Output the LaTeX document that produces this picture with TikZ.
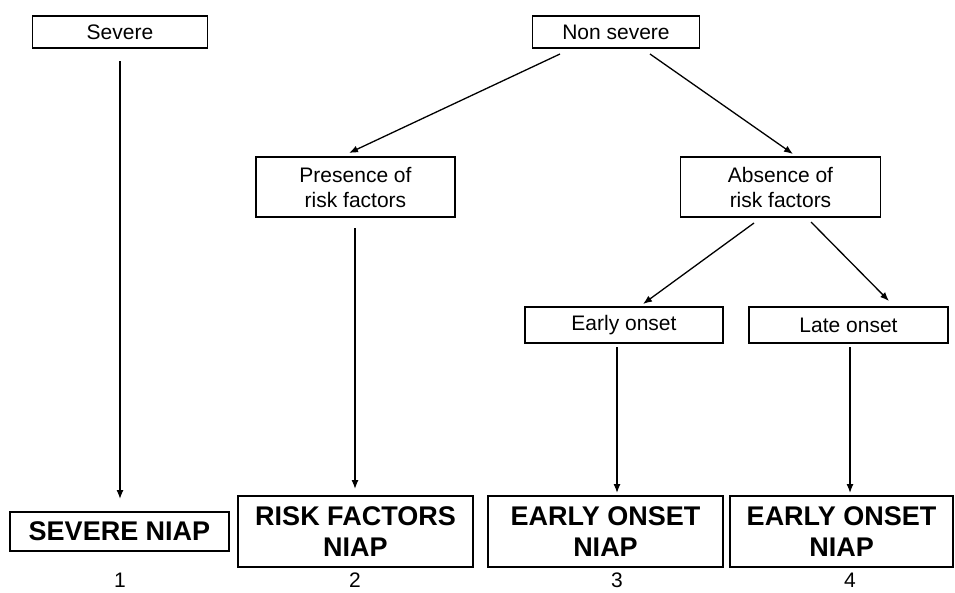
\documentclass[tikz,border=0pt]{standalone}
\usepackage{fontspec}
\setmainfont{Liberation Sans}
\usetikzlibrary{arrows.meta}
\begin{document}
\begin{tikzpicture}[x=1pt,y=-1pt,
  smallbox/.style={draw,line width=1.3pt,inner sep=0pt,align=center,font=\fontsize{21}{25}\selectfont},
  bigbox/.style={draw,line width=1.4pt,inner sep=0pt,align=center,font=\fontsize{27}{31}\selectfont\bfseries},
  numlab/.style={inner sep=0pt,font=\fontsize{21}{24}\selectfont},
  arr/.style={line width=1.3pt,-{Latex[length=9pt,width=7pt]}}]
\useasboundingbox[fill=white] (0,0) rectangle (955,592);
% top-level boxes
\node[smallbox,minimum width=175pt,minimum height=32pt] (sev) at (120,32) {Severe};
\node[smallbox,minimum width=167pt,minimum height=32pt] (ns) at (616,32) {Non severe};
\node[smallbox,minimum width=199pt,minimum height=60pt] (pres) at (355.5,187) {Presence of\\risk factors};
\node[smallbox,minimum width=200pt,minimum height=60pt] (abs) at (780.5,187) {Absence of\\risk factors};
\node[smallbox,minimum width=198pt,minimum height=36pt] (early) at (624,325) {Early onset};
\node[smallbox,minimum width=199pt,minimum height=36pt] (late) at (848.5,325) {Late onset};
% bottom boxes
\node[bigbox,minimum width=219pt,minimum height=39pt] (b1) at (119.5,531.5) {SEVERE NIAP};
\node[bigbox,minimum width=235pt,minimum height=71pt] (b2) at (355.5,531.5) {RISK FACTORS\\NIAP};
\node[bigbox,minimum width=235pt,minimum height=71pt] (b3) at (605.5,531.5) {EARLY ONSET\\NIAP};
\node[bigbox,minimum width=223pt,minimum height=71pt] (b4) at (841.5,531.5) {EARLY ONSET\\NIAP};
% numbers
\node[numlab] (n1) at (120,580) {1};
\node[numlab] (n2) at (355,580) {2};
\node[numlab] (n3) at (617,580) {3};
\node[numlab] (n4) at (850,580) {4};
% connector end points (gaps from boxes)
\coordinate (s1) at (120,61);   \coordinate (e1) at (120,499);
\coordinate (s2) at (560,54);   \coordinate (e2) at (349,153);
\coordinate (s3) at (650,54);   \coordinate (e3) at (793,154);
\coordinate (s4) at (355,228);  \coordinate (e4) at (355,489);
\coordinate (s5) at (754,223);  \coordinate (e5) at (643,304);
\coordinate (s6) at (811,222);  \coordinate (e6) at (889,301);
\coordinate (s7) at (617,347);  \coordinate (e7) at (617,493);
\coordinate (s8) at (850,347);  \coordinate (e8) at (850,493);
\draw[arr] (s1) -- (e1);
\draw[arr] (s2) -- (e2);
\draw[arr] (s3) -- (e3);
\draw[arr] (s4) -- (e4);
\draw[arr] (s5) -- (e5);
\draw[arr] (s6) -- (e6);
\draw[arr] (s7) -- (e7);
\draw[arr] (s8) -- (e8);
\end{tikzpicture}
\end{document}
